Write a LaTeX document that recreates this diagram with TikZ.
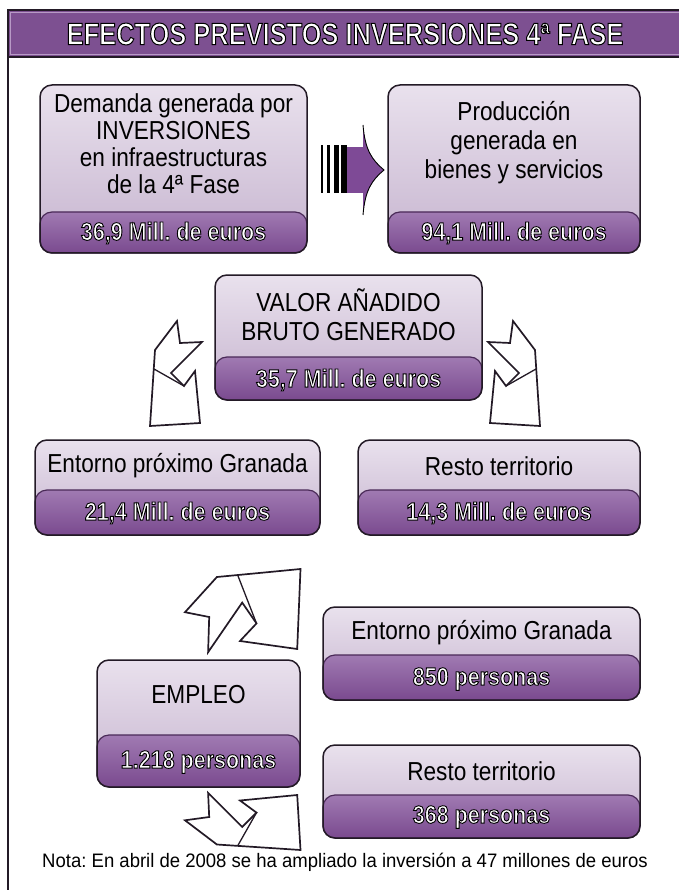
\documentclass[tikz,border=0pt]{standalone}
\usepackage{fontspec}
\setmainfont{Liberation Sans}[FakeStretch=0.87]
\newfontfamily\titlefont{Liberation Sans}[FakeStretch=0.82]
\newfontfamily\valfont{Liberation Sans}[FakeStretch=0.86]
\newfontfamily\notefont{Liberation Sans}[FakeStretch=0.95]
\frenchspacing
\usetikzlibrary{fit}
\newcommand{\outl}[2]{\special{pdf:literal direct 2 Tr #1 w 0 0 0 RG}#2\special{pdf:literal direct 0 Tr}}
\definecolor{hdr}{HTML}{7D5091}
\definecolor{hdrlight}{HTML}{B89AC6}
\definecolor{boxtop}{HTML}{E9E1ED}
\definecolor{boxbot}{HTML}{C6B4CF}
\definecolor{bandtop}{HTML}{A07AB2}
\definecolor{bandbot}{HTML}{7A4A8F}
\definecolor{edge}{HTML}{231A26}
\definecolor{bandedge}{HTML}{4A2A58}
\definecolor{arrowpurple}{HTML}{7E4A96}
\tikzset{
  boxbg/.style={rounded corners=12pt, top color=boxtop, bottom color=boxbot},
  bandbg/.style={rounded corners=12pt, top color=bandtop, bottom color=bandbot, draw=bandedge, line width=1.2pt},
  boxline/.style={rounded corners=12pt, draw=edge, line width=1.5pt},
  lbl/.style={align=center, font=\fontsize{26}{27}\selectfont, text=black, inner sep=0pt},
  val/.style={font=\valfont\fontsize{25}{27}\selectfont\bfseries, text=white, inner sep=0pt},
  bentarrow/.style={fill=white, draw=edge, line width=1.7pt, line join=miter},
  crease/.style={draw=edge, line width=1.3pt},
  stripe/.style={fill=black},
}
\newcommand{\infobox}[6]{%
  \path[boxbg] (#2,#3) rectangle (#4,#5);
  \path[bandbg] (#2,#6) rectangle (#4,#5);
  \path[boxline] (#2,#3) rectangle (#4,#5);
  \node[inner sep=0pt, fit={(#2,#3) (#4,#5)}] (#1) {};
}
\newcommand{\bentshape}{%
  \path[bentarrow] (-13,-10) -- (-10,12) -- (12,11) -- (-19,42) -- (-6,55) -- (5,40) -- (10,92) -- (-40,95) -- (-38,65) -- (-35,19) -- cycle;
  \path[crease] (-6,55) -- (-36,38);
}
\begin{document}
\begin{tikzpicture}[x=1pt, y=-1pt]
\useasboundingbox (0,0) rectangle (678,890);
\fill[white] (0,0) rectangle (678,890);

% header
\path[fill=hdr, draw=edge, line width=1.2pt] (8,10) rectangle (700,57);
\draw[hdrlight, line width=1.2pt] (10.5,12.5) rectangle (700,54.5);
\node[font=\titlefont\fontsize{31}{32}\selectfont\bfseries, text=white, inner sep=0pt] (title) at (345,34) {\outl{1.0}{EFECTOS PREVISTOS INVERSIONES 4ª FASE}};
\draw[edge, line width=1.3pt] (8,10) -- (8,890);

% boxes
\infobox{b1}{40}{85}{307}{253}{212}
\node[lbl] (b1t) at (173.5,144) {Demanda generada por\\INVERSIONES\\en infraestructuras\\de la 4ª Fase};
\node[val] (b1v) at (173.5,233) {\outl{0.9}{36,9 Mill. de euros}};

\infobox{b2}{388}{85}{640}{253}{212}
\node[lbl] (b2t) at (514,143) {Producción\\[2pt]generada en\\[2pt]bienes y servicios};
\node[val] (b2v) at (514,233) {\outl{0.9}{94,1 Mill. de euros}};

\infobox{b3}{215}{275}{482}{400}{357}
\node[lbl] (b3t) at (348.5,315) {VALOR AÑADIDO\\[2pt]BRUTO GENERADO};
\node[val] (b3v) at (348.5,380) {\outl{0.9}{35,7 Mill. de euros}};

\infobox{b4}{35}{440}{320}{535}{490}
\node[lbl] (b4t) at (177.5,466) {Entorno próximo Granada};
\node[val] (b4v) at (177.5,513) {\outl{0.9}{21,4 Mill. de euros}};

\infobox{b5}{358}{440}{640}{535}{490}
\node[lbl] (b5t) at (499,466) {Resto territorio};
\node[val] (b5v) at (499,513) {\outl{0.9}{14,3 Mill. de euros}};

\infobox{b6}{97}{660}{300}{787}{735}
\node[lbl] (b6t) at (198.5,695) {EMPLEO};
\node[val] (b6v) at (198.5,762) {\outl{0.9}{1.218 personas}};

\infobox{b7}{323}{607}{640}{700}{655}
\node[lbl] (b7t) at (481.5,633) {Entorno próximo Granada};
\node[val] (b7v) at (481.5,679) {\outl{0.9}{850 personas}};

\infobox{b8}{323}{745}{640}{838}{795}
\node[lbl] (b8t) at (481.5,771) {Resto territorio};
\node[val] (b8v) at (481.5,817) {\outl{0.9}{368 personas}};

% striped arrow b1 -> b2
\path[stripe] (321,145) rectangle (323,193);
\path[stripe] (327,145) rectangle (329.5,193);
\path[stripe] (334,145) rectangle (338.5,193);
\path[stripe] (341,145) rectangle (347,193);
\fill[arrowpurple] (347,147) rectangle (364,193);
\fill[arrowpurple] (363,125) .. controls (365,150) and (372,160) .. (384,170) .. controls (372,180) and (365,190) .. (363,215) -- cycle;
\draw[black, line width=0.9pt] (363,125) .. controls (365,150) and (372,160) .. (384,170) .. controls (372,180) and (365,190) .. (363,215);

% bent arrows
\begin{scope}[shift={(190,331)}]\bentshape\end{scope}
\begin{scope}[shift={(500,331)}, xscale=-1]\bentshape\end{scope}
\begin{scope}[shift={(196,633)}, yscale=-1.6, xscale=1.1, rotate=90]\bentshape\end{scope}
\begin{scope}[shift={(196,806)}, yscale=1.1, xscale=1.1, rotate=90]\bentshape\end{scope}

% note
\node[font=\notefont\fontsize{19.5}{21}\selectfont, inner sep=0pt] (nota) at (345,862) {Nota: En abril de 2008 se ha ampliado la inversión a 47 millones de euros};
\end{tikzpicture}
\end{document}
